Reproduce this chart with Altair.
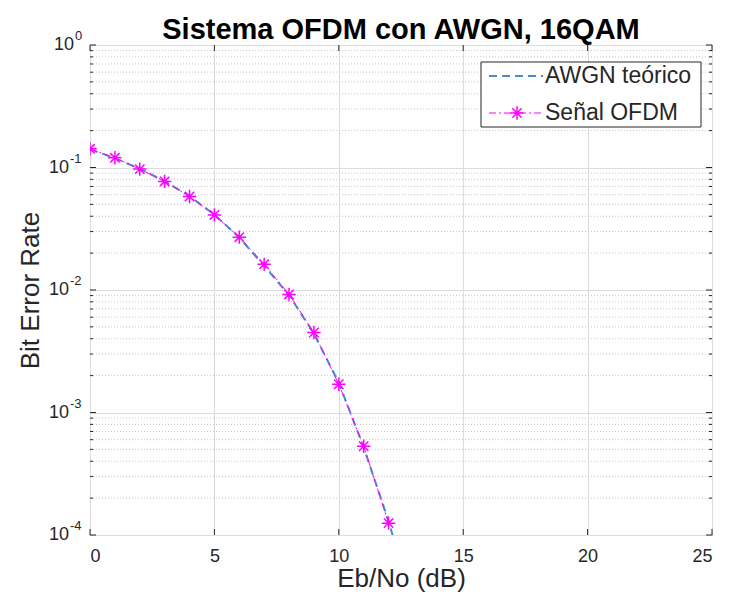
import altair as alt
import pandas as pd

# ---- data ----
ebno_ofdm = [0, 1, 2, 3, 4, 5, 6, 7, 8, 9, 10, 11, 12]
ber_ofdm = [0.142, 0.120, 0.097, 0.077, 0.058, 0.041, 0.027, 0.0162, 0.0092,
            0.0045, 0.0017, 0.00053, 0.000125]

ebno_theory = [0, 1, 2, 3, 4, 5, 6, 7, 8, 9, 10, 11, 12, 13]
ber_theory = [0.141, 0.119, 0.0977, 0.0773, 0.0583, 0.0412, 0.0268, 0.0157,
              0.0091, 0.0044, 0.00175, 0.00052, 0.00013, 0.000025]

x_ticks = [0, 5, 10, 15, 20, 25]
y_ticks = [1e-4, 1e-3, 1e-2, 1e-1, 1.0]
y_ticks_neg = [1e-4, 1e-3, 1e-2, 1e-1]
y_ticks_zero = [1.0]
y_minor = [m * 10.0 ** e for e in (-4, -3, -2, -1) for m in range(2, 10)]

legend_labels = ["AWGN teórico", "Señal OFDM"]
title_text = "Sistema OFDM con AWGN, 16QAM"
x_title = "Eb/No (dB)"
y_title = "Bit Error Rate"

# ---- styling ----
W, H = 622, 490
FONT = "Liberation Sans, Arial, Helvetica, sans-serif"
AX = "#262626"
BLUE = "#3F8FD0"
MAG = "#FF00FF"
GRID = "#DCDCDC"
MINOR = "#C4C4C4"
ASTERISK = "M-1,0L1,0M0,-1L0,1M-0.7,-0.7L0.7,0.7M-0.7,0.7L0.7,-0.7"

xscale = alt.Scale(domain=[0, 25], nice=False, zero=False)
yscale = alt.Scale(type="log", domain=[1e-4, 1], nice=False)

df_theory = pd.DataFrame({"x": ebno_theory, "y": ber_theory})
df_ofdm = pd.DataFrame({"x": ebno_ofdm, "y": ber_ofdm})
df_xt = pd.DataFrame({"x": x_ticks})
df_yt = pd.DataFrame({"y": y_ticks})
df_yneg = pd.DataFrame({"y": y_ticks_neg})
df_yzero = pd.DataFrame({"y": y_ticks_zero})
df_ym = pd.DataFrame({"y": y_minor})
one = pd.DataFrame({"a": [0]})

# minor grid (dotted) + y axis (grid/title only)
minor_grid = alt.Chart(df_ym).mark_rule(color=MINOR, strokeDash=[1, 2], strokeWidth=1).encode(
    y=alt.Y("y:Q", scale=yscale, title=y_title,
            axis=alt.Axis(values=y_ticks, labels=False, grid=True, gridColor=GRID,
                          ticks=False, domain=False, titleFontSize=26,
                          titleFont=FONT, titleFontWeight="normal", titleColor=AX,
                          titleX=-60, titleY=H / 2, titleAngle=270, titleAlign="center",
                          titleBaseline="middle")),
    x=alt.value(0), x2=alt.value(W),
)

x_ticks_bottom = alt.Chart(df_xt).mark_rule(color=AX, strokeWidth=1).encode(
    x=alt.X("x:Q", scale=xscale, title=x_title,
            axis=alt.Axis(values=x_ticks, grid=True, gridColor=GRID, ticks=False,
                          domain=False, labelFontSize=18, labelColor=AX, labelFont=FONT,
                          labelPadding=12, titleFontSize=26, titleFont=FONT,
                          titleFontWeight="normal", titleColor=AX,
                          titleX=W / 2, titleY=51, titleAlign="center",
                          titleBaseline="alphabetic")),
    y=alt.value(H), y2=alt.value(H - 6),
)
x_ticks_top = alt.Chart(df_xt).mark_rule(color=AX, strokeWidth=1).encode(
    x=alt.X("x:Q", scale=xscale), y=alt.value(0), y2=alt.value(6),
)
y_ticks_left = alt.Chart(df_yt).mark_rule(color=AX, strokeWidth=1).encode(
    y=alt.Y("y:Q", scale=yscale), x=alt.value(0), x2=alt.value(6),
)
y_ticks_right = alt.Chart(df_yt).mark_rule(color=AX, strokeWidth=1).encode(
    y=alt.Y("y:Q", scale=yscale), x=alt.value(W - 6), x2=alt.value(W),
)
ym_left = alt.Chart(df_ym).mark_rule(color=AX, strokeWidth=1).encode(
    y=alt.Y("y:Q", scale=yscale), x=alt.value(0), x2=alt.value(3),
)
ym_right = alt.Chart(df_ym).mark_rule(color=AX, strokeWidth=1).encode(
    y=alt.Y("y:Q", scale=yscale), x=alt.value(W - 3), x2=alt.value(W),
)

# y tick labels: "10" with a raised exponent
def ylabels(df, split):
    base = alt.Chart(df).mark_text(text="10", align="right", baseline="middle",
                                   fontSize=18, font=FONT, color=AX).encode(
        y=alt.Y("y:Q", scale=yscale), x=alt.value(split)
    )
    expo = alt.Chart(df).transform_calculate(
        e="toString(round(log(datum.y) / LN10))"
    ).mark_text(align="left", baseline="middle", fontSize=13, font=FONT, color=AX,
                dy=-9).encode(
        y=alt.Y("y:Q", scale=yscale), x=alt.value(split + 1), text="e:N"
    )
    return [base, expo]

ylab_layers = ylabels(df_yneg, -21) + ylabels(df_yzero, -16)

theory = alt.Chart(df_theory).mark_line(
    color=BLUE, strokeWidth=2, strokeDash=[8, 5], clip=True
).encode(x=alt.X("x:Q", scale=xscale), y=alt.Y("y:Q", scale=yscale))

ofdm_line = alt.Chart(df_ofdm).mark_line(
    color=MAG, strokeWidth=1, strokeDash=[7, 3, 2, 3], clip=True
).encode(x=alt.X("x:Q", scale=xscale), y=alt.Y("y:Q", scale=yscale))

ofdm_pts = alt.Chart(df_ofdm).mark_point(
    shape=ASTERISK, color=MAG, filled=False, size=180, strokeWidth=1.5, opacity=1, clip=True
).encode(x=alt.X("x:Q", scale=xscale), y=alt.Y("y:Q", scale=yscale))

# legend (box + samples + labels)
LX0 = 391
leg_box = alt.Chart(one).mark_rect(fill="white", stroke=AX, strokeWidth=1).encode(
    x=alt.value(LX0), x2=alt.value(LX0 + 220), y=alt.value(17), y2=alt.value(82)
)
leg_l1 = alt.Chart(one).mark_rule(color=BLUE, strokeWidth=2, strokeDash=[8, 5]).encode(
    x=alt.value(LX0 + 8), x2=alt.value(LX0 + 62), y=alt.value(31)
)
leg_l2 = alt.Chart(one).mark_rule(color=MAG, strokeWidth=1, strokeDash=[7, 3, 2, 3]).encode(
    x=alt.value(LX0 + 8), x2=alt.value(LX0 + 62), y=alt.value(68)
)
leg_p2 = alt.Chart(one).mark_point(shape=ASTERISK, color=MAG, filled=False, size=180,
                                   strokeWidth=1.5, opacity=1).encode(
    x=alt.value(LX0 + 36), y=alt.value(68)
)
leg_t1 = alt.Chart(one).mark_text(text=legend_labels[0], align="left", baseline="middle",
                                  fontSize=23, font=FONT, color=AX).encode(
    x=alt.value(LX0 + 64), y=alt.value(31)
)
leg_t2 = alt.Chart(one).mark_text(text=legend_labels[1], align="left", baseline="middle",
                                  fontSize=23, font=FONT, color=AX).encode(
    x=alt.value(LX0 + 64), y=alt.value(68)
)

# chart title as a text mark above the plot
title_mark = alt.Chart(one).mark_text(text=title_text, align="center", baseline="alphabetic",
                                      fontSize=29, fontWeight="bold", font=FONT,
                                      color="black").encode(
    x=alt.value(W / 2), y=alt.value(-6)
)

chart = alt.layer(
    minor_grid, x_ticks_bottom, x_ticks_top, y_ticks_left, y_ticks_right, ym_left, ym_right,
    *ylab_layers,
    theory, ofdm_line, ofdm_pts,
    leg_box, leg_l1, leg_l2, leg_p2, leg_t1, leg_t2,
    title_mark,
).properties(
    width=W, height=H,
    autosize=alt.AutoSizeParams(type="none"),
    padding={"left": 82, "top": 37, "right": 10, "bottom": 57},
).configure_view(stroke=AX, strokeWidth=1)

chart.save("out.html", embed_options={"renderer": "svg", "actions": False})
